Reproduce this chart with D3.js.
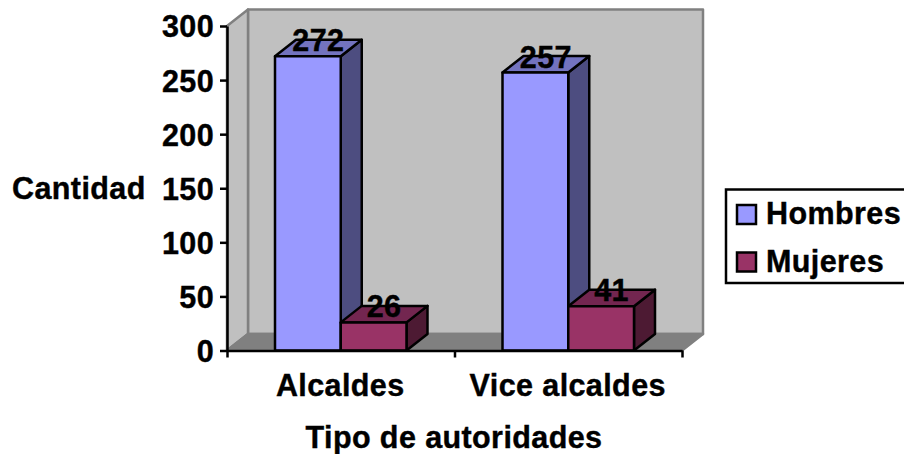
<!DOCTYPE html>
<html>
<head>
<meta charset="utf-8">
<script src="https://cdn.jsdelivr.net/npm/d3@7"></script>
<style>
html,body{margin:0;padding:0;background:#fff}
svg{display:block}
text{font-family:"Liberation Sans",Arial,sans-serif;font-weight:bold;fill:#000;stroke:#000;stroke-width:0.4px;letter-spacing:0.4px}
</style>
</head>
<body>
<div id="chart"></div>
<script>
const categories = ["Alcaldes", "Vice alcaldes"];
const seriesNames = ["Hombres", "Mujeres"];
const hombres = [272, 257];
const mujeres = [26, 41];
const yTicks = [0, 50, 100, 150, 200, 250, 300];
const faceColors = [
  {front: "#9999ff", top: "#7373bf", side: "#4d4d80"},
  {front: "#993366", top: "#732650", side: "#4d1a33"}
];

const width = 904, height = 454;
const depthX = 21, depthY = -16.5;
const labelSize = "30.5px";

const svg = d3.select("#chart").append("svg").attr("width", width).attr("height", height);

const y = d3.scaleLinear().domain([0, 300]).range([350.5, 26]);
const x0 = d3.scaleBand().domain(categories).range([227, 682]);
const x1 = d3.scaleBand().domain(seriesNames)
  .range([48, x0.bandwidth() - 48]);

const poly = pts => pts.map(p => p.join(",")).join(" ");

// Walls and floor of the 3D box
const left = x0.range()[0], right = x0.range()[1];
const base = y(0), top3d = y(300);
const walls = svg.append("g").attr("stroke", "#808080").attr("stroke-width", 2.5).attr("stroke-linejoin", "round");
walls.append("polygon").attr("fill", "#c0c0c0")
  .attr("points", poly([[left + depthX, top3d + depthY], [right + depthX, top3d + depthY], [right + depthX, base + depthY], [left + depthX, base + depthY]]));
walls.append("polygon").attr("fill", "#c0c0c0")
  .attr("points", poly([[left, top3d], [left + depthX, top3d + depthY], [left + depthX, base + depthY], [left, base]]));
walls.append("polygon").attr("fill", "#808080")
  .attr("points", poly([[left, base], [left + depthX, base + depthY], [right + depthX, base + depthY], [right, base]]));

// Bars: front, top and side faces per series
const series = [hombres, mujeres];
const bars = svg.append("g").attr("stroke", "#000").attr("stroke-width", 2.5).attr("stroke-linejoin", "round");
categories.forEach((cat, ci) => {
  seriesNames.forEach((name, si) => {
    const v = series[si][ci];
    const xa = x0(cat) + x1(name), xb = xa + x1.bandwidth();
    const yt = y(v), yb = y(0);
    const c = faceColors[si];
    bars.append("polygon").attr("fill", c.side)
      .attr("points", poly([[xb, yt], [xb + depthX, yt + depthY], [xb + depthX, yb + depthY], [xb, yb]]));
    bars.append("polygon").attr("fill", c.top)
      .attr("points", poly([[xa, yt], [xa + depthX, yt + depthY], [xb + depthX, yt + depthY], [xb, yt]]));
    bars.append("rect").attr("fill", c.front)
      .attr("x", xa).attr("y", yt).attr("width", xb - xa).attr("height", yb - yt);
  });
});

// Axes
const yAxis = d3.axisLeft(y).tickValues(yTicks).tickSize(7).tickPadding(6).tickSizeOuter(0);
const gy = svg.append("g").attr("transform", `translate(${left},0)`).call(yAxis);
const xAxis = d3.axisBottom(d3.scaleLinear().domain([0, categories.length]).range([left, right]))
  .ticks(categories.length).tickFormat("").tickSize(7).tickSizeOuter(0);
const gx = svg.append("g").attr("transform", `translate(0,${base})`).call(xAxis);
svg.selectAll(".domain, .tick line").attr("stroke", "#000").attr("stroke-width", 2.5);
gy.selectAll("text").style("font-size", labelSize).attr("font-family", null).attr("dy", "0.36em");

// Category labels sit centred under each band
svg.append("g").selectAll("text").data(categories).join("text")
  .attr("x", d => x0(d) + x0.bandwidth() / 2 - 0.5).attr("y", 396)
  .attr("text-anchor", "middle").style("font-size", labelSize).text(d => d);

// Value labels above the bars
categories.forEach((cat, ci) => {
  seriesNames.forEach((name, si) => {
    const v = series[si][ci];
    svg.append("text")
      .attr("x", x0(cat) + x1(name) + x1.bandwidth() / 2 + depthX / 2)
      .attr("y", y(v) - 5)
      .attr("text-anchor", "middle").style("font-size", labelSize).text(v);
  });
});

// Axis titles
svg.append("text").attr("x", 12).attr("y", 198.5).style("font-size", labelSize).text("Cantidad");
svg.append("text").attr("x", 454).attr("y", 447.5).attr("text-anchor", "middle").style("font-size", labelSize).text("Tipo de autoridades");

// Legend
const legend = svg.append("g");
legend.append("rect").attr("x", 726).attr("y", 189.5).attr("width", 180).attr("height", 93.5)
  .attr("fill", "#fff").attr("stroke", "#000").attr("stroke-width", 2.5);
seriesNames.forEach((name, i) => {
  const ly = 205 + i * 47.5;
  legend.append("rect").attr("x", 737).attr("y", ly).attr("width", 19).attr("height", 19)
    .attr("fill", faceColors[i].front).attr("stroke", "#000").attr("stroke-width", 2.5);
  legend.append("text").attr("x", 766).attr("y", ly + 19).style("font-size", labelSize).text(name);
});
</script>
</body>
</html>
